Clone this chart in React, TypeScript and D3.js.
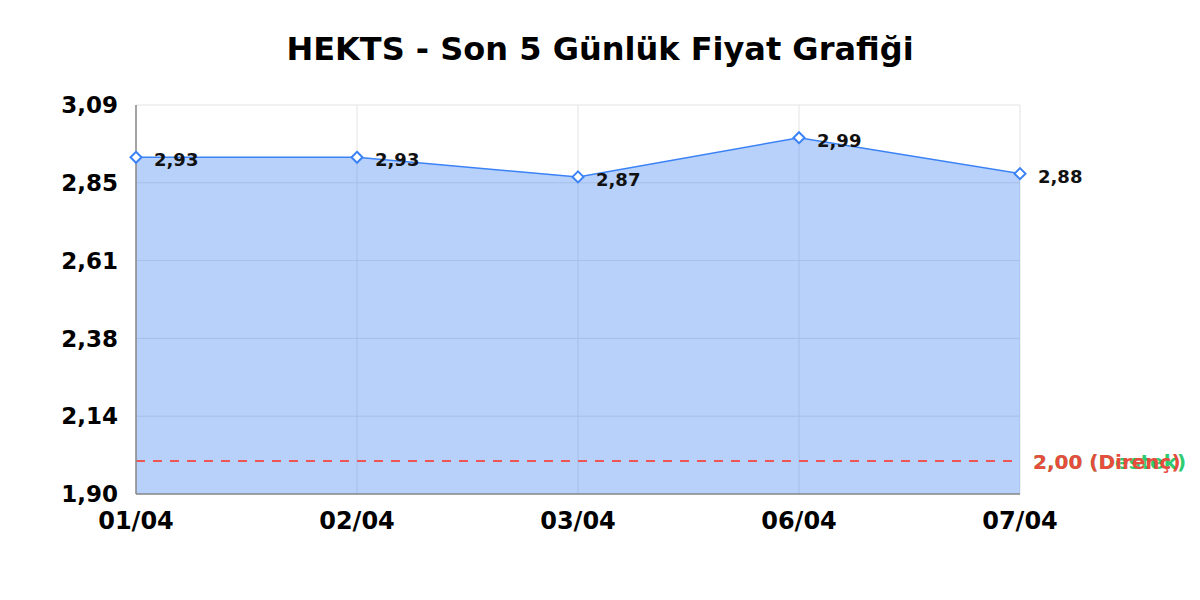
import * as d3 from 'd3';

const title = 'HEKTS - Son 5 Günlük Fiyat Grafiği';
const dates = ['01/04', '02/04', '03/04', '06/04', '07/04'];
const prices = [2.93, 2.93, 2.87, 2.99, 2.88];
const yTicks = [1.9, 2.138, 2.376, 2.614, 2.852, 3.09];
const supportLevel = 2.0;
const resistanceLevel = 2.0;

const fmt = (v: number) => v.toFixed(2).replace('.', ',');

export default function App() {
  const width = 1200;
  const height = 600;
  const margin = { top: 105, right: 180, bottom: 106, left: 136 };
  const font = '"DejaVu Sans", sans-serif';

  const x = d3.scalePoint<string>()
    .domain(dates)
    .range([margin.left, width - margin.right]);
  const y = d3.scaleLinear()
    .domain([1.9, 3.09])
    .range([height - margin.bottom, margin.top]);

  const points = dates.map((d, i) => ({ date: d, value: prices[i] }));

  const area = d3.area<{ date: string; value: number }>()
    .x((d) => x(d.date)!)
    .y0(y(1.9))
    .y1((d) => y(d.value));
  const line = d3.line<{ date: string; value: number }>()
    .x((d) => x(d.date)!)
    .y((d) => y(d.value));

  const x0 = margin.left;
  const x1 = width - margin.right;
  const yTop = margin.top;
  const yBot = height - margin.bottom;
  const levelY = Math.round(y(resistanceLevel));

  return (
    <svg width={width} height={height} style={{ display: 'block', position: 'absolute', left: 0, top: 0 }}>
      <rect width={width} height={height} fill="#fff" />
      <text x={600} y={60} textAnchor="middle" fontFamily={font} fontWeight="bold" fontSize={32} fill="#000">
        {title}
      </text>

      {/* grid */}
      {yTicks.map((t) => (
        <line key={'h' + t} x1={x0} x2={x1} y1={y(t)} y2={y(t)} stroke="#e3e3e3" strokeWidth={1} />
      ))}
      {dates.map((d) => (
        <line key={'v' + d} x1={x(d)} x2={x(d)} y1={yTop} y2={yBot} stroke="#e3e3e3" strokeWidth={1} />
      ))}

      <path d={area(points)!} fill="#4285f4" fillOpacity={0.38} />

      {/* support / resistance */}
      <line x1={x0} x2={x1} y1={Math.round(y(supportLevel))} y2={Math.round(y(supportLevel))} stroke="#2ecc71" strokeWidth={1} strokeDasharray="9,8" />
      <line x1={x0} x2={x1} y1={levelY} y2={levelY} stroke="#ee5555" strokeWidth={2} strokeDasharray="9,8" />

      {/* axes */}
      <line x1={x0} x2={x0} y1={yTop} y2={yBot} stroke="#8a8a8a" strokeWidth={1.5} />
      <line x1={x0} x2={x1} y1={yBot} y2={yBot} stroke="#8a8a8a" strokeWidth={1.5} />

      {yTicks.map((t) => (
        <text key={'yl' + t} x={118} y={y(t)} dy="0.36em" textAnchor="end" fontFamily={font} fontWeight="bold" fontSize={23} fill="#000">
          {fmt(t)}
        </text>
      ))}
      {dates.map((d) => (
        <text key={'xl' + d} x={x(d)} y={529} textAnchor="middle" fontFamily={font} fontWeight="bold" fontSize={24} fill="#000">
          {d}
        </text>
      ))}

      <path d={line(points)!} fill="none" stroke="#3b82f6" strokeWidth={1.5} />
      {points.map((p) => (
        <g key={'m' + p.date} transform={`translate(${x(p.date)},${y(p.value)})`}>
          <path d="M0,-5.5L5.5,0L0,5.5L-5.5,0Z" fill="#fff" stroke="#3b82f6" strokeWidth={2} />
        </g>
      ))}
      {points.map((p) => (
        <text key={'dl' + p.date} x={x(p.date)! + 18} y={y(p.value) + 9} fontFamily={font} fontWeight="bold" fontSize={18} fill="#111">
          {fmt(p.value)}
        </text>
      ))}

      <text x={x1 + 13} y={y(supportLevel)} dy="0.36em" fontFamily={font} fontWeight="bold" fontSize={20} fill="#2ecc71">
        {fmt(supportLevel)} (Destek)
      </text>
      <text x={x1 + 13} y={y(resistanceLevel)} dy="0.36em" fontFamily={font} fontWeight="bold" fontSize={20} fill="#e74c3c">
        {fmt(resistanceLevel)} (Direnç)
      </text>
    </svg>
  );
}
